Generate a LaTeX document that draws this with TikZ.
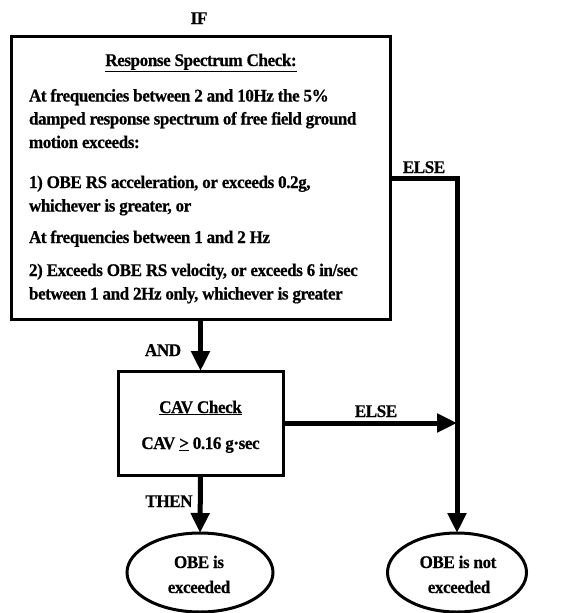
\documentclass[tikz,border=0pt]{standalone}
\usepackage{fontspec}
\setmainfont{Liberation Serif}[FakeStretch=0.96,LetterSpace=-2.4,FakeBold=0.6]
\usetikzlibrary{arrows.meta,shapes.geometric}
\tikzset{
  txt/.style={inner sep=0pt, outer sep=0pt, anchor=base west, font=\fontsize{17.8}{23.5}\selectfont\bfseries},
  ctxt/.style={txt, anchor=base},
  boxstyle/.style={draw, line width=3pt, inner sep=0pt, outer sep=0pt},
  ovalstyle/.style={draw, ellipse, line width=3pt, inner sep=0pt, outer sep=0pt},
  flow/.style={line width=5pt, -{Triangle[length=20pt,width=18pt]}},
}
\begin{document}
\begin{tikzpicture}[x=1pt,y=-1pt]
\useasboundingbox (0,0) rectangle (563,613);
% boxes
\node[boxstyle, minimum width=379pt, minimum height=283pt] (rs) at (200.5,178) {};
\node[boxstyle, minimum width=165pt, minimum height=104pt] (cav) at (200.5,423) {};
\node[ovalstyle, minimum width=146pt, minimum height=79pt] (yes) at (200,572.5) {};
\node[ovalstyle, minimum width=139pt, minimum height=79pt] (no) at (457,572.5) {};
% texts in top box
\node[ctxt] (ttl) at (201,66) {\underline{Response Spectrum Check:}};
\node[txt] (l1) at (29,101.5) {At frequencies between 2 and 10Hz the 5\%};
\node[txt] (l2) at (29,124.5) {damped response spectrum of free field ground};
\node[txt] (l3) at (29,148) {motion exceeds:};
\node[txt] (l4) at (29,188) {1) OBE RS acceleration, or exceeds 0.2g,};
\node[txt] (l5) at (29,211.5) {whichever is greater, or};
\node[txt] (l6) at (29,243) {At frequencies between 1 and 2 Hz};
\node[txt] (l7) at (29,276) {2) Exceeds OBE RS velocity, or exceeds 6 in/sec};
\node[txt] (l8) at (29,299.5) {between 1 and 2Hz only, whichever is greater};
% CAV box text
\node[ctxt] (cavt) at (200.5,413) {\underline{CAV Check}};
\node[ctxt] (cavc) at (200.5,449) {CAV \underline{>} 0.16 g·sec};
% oval texts
\node[ctxt] (y1) at (199,568) {OBE is};
\node[ctxt] (y2) at (199,593) {exceeded};
\node[ctxt] (n1) at (458,568) {OBE is not};
\node[ctxt] (n2) at (459,593) {exceeded};
% labels
\node[ctxt] (if) at (199,24) {IF};
\node[ctxt] (else1) at (424,173) {ELSE};
\node[ctxt] (else2) at (376,417) {ELSE};
\node[ctxt] (and) at (163,356) {AND};
\node[ctxt] (then) at (169,507) {THEN};
% connectors
\coordinate (j) at (457,423);
\draw[flow] (rs.south) -- (cav.north);
\draw[flow] (cav.south) -- (yes.north);
\draw[flow] (cav.east) -- (j);
\draw[flow] (rs.east) -| (no.north);
\end{tikzpicture}
\end{document}
